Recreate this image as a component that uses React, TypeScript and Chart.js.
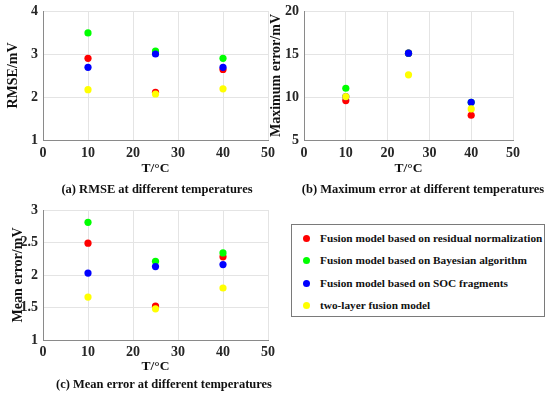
import React, { useEffect, useRef } from "react";
import { Chart, registerables } from "chart.js";

Chart.register(...registerables);

// ---------- data ----------
const temperatures = [10, 25, 40];

const seriesNames = [
  "Fusion model based on residual normalization",
  "Fusion model based on Bayesian algorithm",
  "Fusion model based on SOC fragments",
  "two-layer fusion model",
];
const seriesColors = ["#ff0000", "#00ff00", "#0000ff", "#ffff00"];
// drawing order: higher value is drawn first (underneath)
const seriesDrawOrder = [3, 2, 1, 0];

// (a) RMSE / mV
const rmseResidual = [2.9, 2.11, 2.64];
const rmseBayesian = [3.49, 3.07, 2.9];
const rmseSoc = [2.69, 3.0, 2.69];
const rmseTwoLayer = [2.17, 2.07, 2.19];

// (b) Maximum error / mV
const maxResidual = [9.59, 15.1, 7.88];
const maxBayesian = [11.02, 15.1, 9.39];
const maxSoc = [10.05, 15.1, 9.39];
const maxTwoLayer = [10.05, 12.58, 8.61];

// (c) Mean error / mV
const meanResidual = [2.49, 1.52, 2.28];
const meanBayesian = [2.81, 2.21, 2.34];
const meanSoc = [2.03, 2.13, 2.16];
const meanTwoLayer = [1.66, 1.48, 1.8];

const xTickMin = 0;
const xTickMax = 50;
const xTickStep = 10;

const captions = [
  "(a) RMSE at different temperatures",
  "(b) Maximum error at different temperatures",
  "(c) Mean error at different temperatures",
];

const FONT = "'Liberation Serif', 'Times New Roman', serif";

type PanelProps = {
  left: number;
  top: number;
  width: number;
  height: number;
  series: number[][];
  yMin: number;
  yMax: number;
  yStep: number;
  yTitle: string;
  padding: { left: number; right: number; top: number; bottom: number };
  yWidth: number;
  xTickPad: number;
  xTitlePadTop: number;
};

function Panel(p: PanelProps) {
  const ref = useRef<HTMLCanvasElement | null>(null);
  useEffect(() => {
    if (!ref.current) return;
    const chart = new Chart(ref.current, {
      type: "scatter",
      data: {
        datasets: p.series.map((vals, i) => ({
          label: seriesNames[i],
          data: temperatures.map((t, j) => ({ x: t, y: vals[j] })),
          backgroundColor: seriesColors[i],
          borderColor: seriesColors[i],
          pointRadius: 3.6,
          pointBorderWidth: 0,
          showLine: false,
          order: seriesDrawOrder[i],
        })),
      },
      options: {
        animation: false,
        responsive: false,
        devicePixelRatio: 1,
        layout: { padding: p.padding, autoPadding: false },
        plugins: { legend: { display: false }, tooltip: { enabled: false }, title: { display: false } },
        scales: {
          x: {
            type: "linear",
            min: xTickMin,
            max: xTickMax,
            afterFit: (s: any) => {
              s.paddingLeft = 0;
              s.paddingRight = 0;
            },
            ticks: {
              stepSize: xTickStep,
              padding: p.xTickPad,
              color: "#262626",
              font: { family: FONT, size: 14, weight: "bold", lineHeight: 1 },
            },
            grid: { color: "#e4e4e4", drawTicks: false },
            border: { color: "#8a8a8a", width: 1 },
            title: {
              display: true,
              text: "T/°C",
              color: "#111",
              padding: { top: p.xTitlePadTop, bottom: 0 },
              font: { family: FONT, size: 13.5, weight: "bold" },
            },
          },
          y: {
            type: "linear",
            min: p.yMin,
            max: p.yMax,
            afterFit: (s: any) => {
              s.width = p.yWidth;
              s.paddingTop = 0;
              s.paddingBottom = 0;
            },
            ticks: {
              stepSize: p.yStep,
              padding: 5,
              color: "#262626",
              font: { family: FONT, size: 14, weight: "bold" },
              callback: (v: any) => String(Number(v)),
            },
            grid: { color: "#e4e4e4", drawTicks: false },
            border: { color: "#8a8a8a", width: 1 },
            title: {
              display: true,
              text: p.yTitle,
              color: "#111",
              padding: { top: 0, bottom: 0 },
              font: { family: FONT, size: 14, weight: "bold" },
            },
          },
        },
      },
    } as any);
    return () => chart.destroy();
  }, []);
  return (
    <div style={{ position: "absolute", left: p.left, top: p.top, width: p.width, height: p.height }}>
      <canvas ref={ref} width={p.width} height={p.height} style={{ width: p.width, height: p.height }} />
    </div>
  );
}

function Caption({ text, cx, cy }: { text: string; cx: number; cy: number }) {
  return (
    <div
      style={{
        position: "absolute",
        left: cx - 160,
        width: 320,
        top: cy - 8,
        lineHeight: "16px",
        textAlign: "center",
        fontFamily: FONT,
        fontWeight: "bold",
        fontSize: 12.5,
        color: "#111",
        whiteSpace: "nowrap",
      }}
    >
      {text}
    </div>
  );
}

function Legend() {
  const rowTops = [14, 36, 59, 81];
  return (
    <div
      style={{
        position: "absolute",
        left: 291,
        top: 224,
        width: 254,
        height: 93,
        border: "1px solid #7a7a7a",
        boxSizing: "border-box",
        background: "#fff",
      }}
    >
      {seriesNames.map((name, i) => (
        <div key={name}>
          <span
            style={{
              position: "absolute",
              left: 11,
              top: rowTops[i] - 4,
              width: 7,
              height: 7,
              borderRadius: "50%",
              background: seriesColors[i],
            }}
          />
          <span
            style={{
              position: "absolute",
              left: 28,
              top: rowTops[i] - 8,
              lineHeight: "15px",
              fontFamily: FONT,
              fontWeight: "bold",
              fontSize: 11.3,
              color: "#111",
              whiteSpace: "nowrap",
            }}
          >
            {name}
          </span>
        </div>
      ))}
    </div>
  );
}

export default function App() {
  return (
    <div style={{ position: "absolute", left: 0, top: 0, width: 550, height: 395, background: "#fff", overflow: "hidden" }}>
      <Panel
        left={0}
        top={0}
        width={275}
        height={185}
        series={[rmseResidual, rmseBayesian, rmseSoc, rmseTwoLayer]}
        yMin={1}
        yMax={4}
        yStep={1}
        yTitle="RMSE/mV"
        padding={{ left: 5, right: 7, top: 11, bottom: 8.8 }}
        yWidth={38}
        xTickPad={6}
        xTitlePadTop={-6}
      />
      <Panel
        left={265}
        top={0}
        width={285}
        height={185}
        series={[maxResidual, maxBayesian, maxSoc, maxTwoLayer]}
        yMin={5}
        yMax={20}
        yStep={5}
        yTitle="Maximum error/mV"
        padding={{ left: 3, right: 37, top: 11, bottom: 8.8 }}
        yWidth={36}
        xTickPad={6}
        xTitlePadTop={-6}
      />
      <Panel
        left={0}
        top={195}
        width={275}
        height={185}
        series={[meanResidual, meanBayesian, meanSoc, meanTwoLayer]}
        yMin={1}
        yMax={3}
        yStep={0.5}
        yTitle="Mean error/mV"
        padding={{ left: 10, right: 7, top: 15, bottom: 4.9 }}
        yWidth={33}
        xTickPad={5}
        xTitlePadTop={-5.1}
      />
      <Caption text={captions[0]} cx={157} cy={189} />
      <Caption text={captions[1]} cx={423} cy={189} />
      <Caption text={captions[2]} cx={164} cy={384} />
      <Legend />
    </div>
  );
}
